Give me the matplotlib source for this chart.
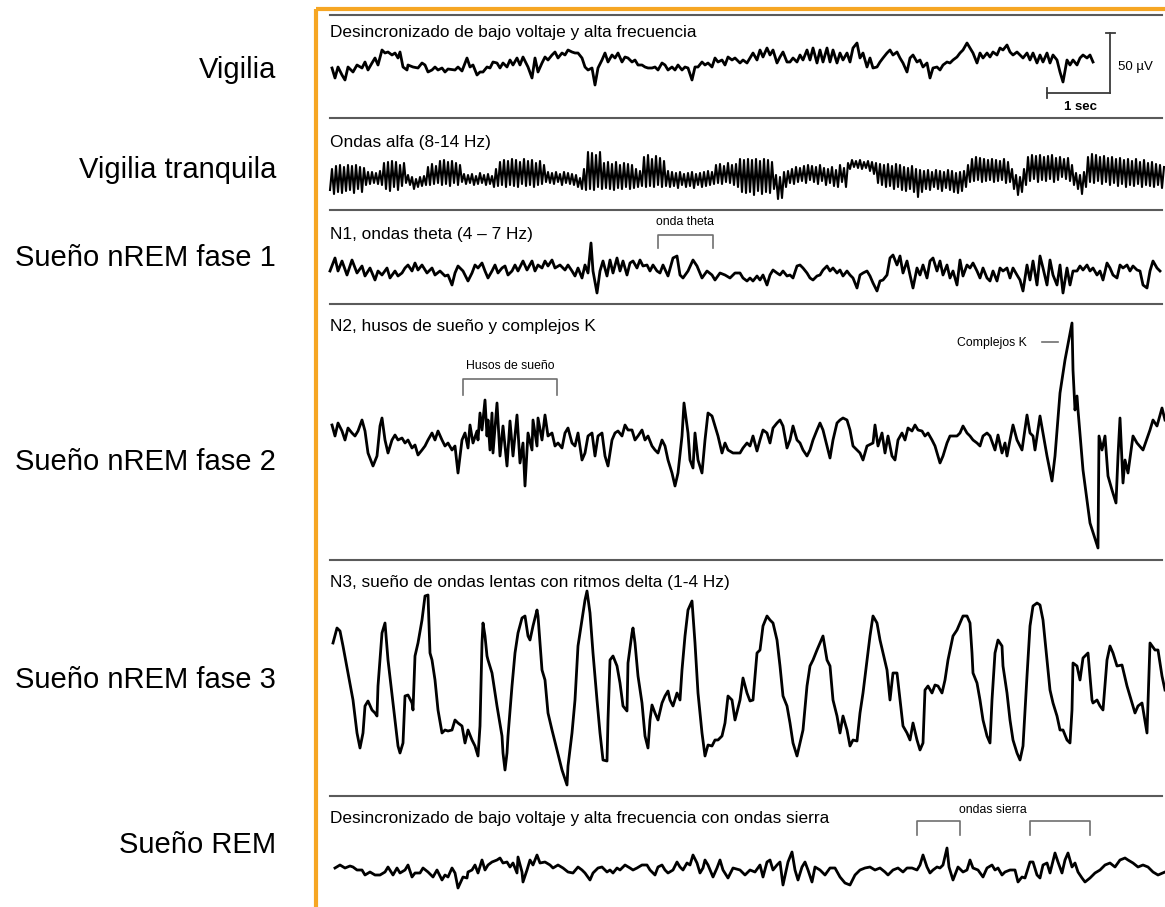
import numpy as np
import matplotlib
matplotlib.use('Agg')
import matplotlib.pyplot as plt

plt.rcParams['font.family'] = ['Liberation Sans', 'DejaVu Sans']

# %%
# Textos
fases = ['Vigilia', 'Vigilia tranquila', 'Sueño nREM fase 1',
         'Sueño nREM fase 2', 'Sueño nREM fase 3', 'Sueño REM']
titulos = ['Desincronizado de bajo voltaje y alta frecuencia',
           'Ondas alfa (8-14 Hz)',
           'N1, ondas theta (4 – 7 Hz)',
           'N2, husos de sueño y complejos K',
           'N3, sueño de ondas lentas con ritmos delta (1-4 Hz)',
           'Desincronizado de bajo voltaje y alta frecuencia con ondas sierra']

# %%
# Trazados EEG leidos del registro: (posicion en el trazado, amplitud)
# unidades del trazado: 63 = 1 s en horizontal, 60 = 50 µV en vertical
vigilia = [(2,-3),(5,-13),(8,-2),(12,-10),(15,-15),(18,-2),(23,-7),(27,0),(32,-3),(35,3),(38,-5),(42,2),(45,7),(48,0),
           (52,15),(55,12),(58,13),(62,10),(65,12),(68,7),(70,13),(73,-2),(77,-5),(78,0),(83,-2),(88,-3),(92,2),(95,0),
           (98,-7),(102,-5),(105,-2),(108,-5),(112,-3),(115,-7),(118,-4),(125,-5),(128,-2),(132,-6),(137,7),(140,-2),
           (143,0),(147,-10),(150,-7),(153,-7),(157,-2),(160,-3),(163,3),(167,2),(170,-3),(173,2),(177,-2),(180,5),
           (183,0),(187,7),(190,0),(193,8),(198,-2),(202,-13),(205,7),(208,-7),(212,2),(215,8),(218,5),(222,10),
           (225,13),(228,7),(232,12),(235,10),(238,15),(242,13),(245,12),(248,12),(252,7),(255,-2),(258,-5),(262,-3),
           (265,-20),(268,-3),(272,5),(275,12),(278,3),(282,10),(285,7),(288,12),(292,3),(295,8),(298,7),(302,3),
           (305,5),(308,0),(312,0),(315,-2),(318,-3),(322,-3),(325,-2),(328,-5),(332,2),(335,0),(338,-5),(342,-2),
           (345,-5),(348,0),(352,-5),(355,-2),(358,-3),(362,-15),(365,-2),(368,-2),(372,3),(375,0),(378,2),(382,-2),
           (385,7),(388,3),(392,5),(395,0),(398,8),(402,5),(405,7),(410,2),(413,5),(417,2),(420,7),(423,12),(427,5),
           (430,15),(433,8),(437,17),(440,10),(443,15),(447,2),(450,8),(453,13),(457,3),(460,3),(463,7),(467,3),
           (470,10),(473,5),(477,15),(480,5),(483,17),(487,2),(490,15),(493,3),(497,17),(500,3),(503,15),(507,2),
           (510,12),(513,5),(517,12),(520,3),(523,17),(527,22),(530,7),(533,12),(537,-2),(540,7),(543,-3),(547,-2),
           (550,3),(553,7),(557,12),(560,15),(563,10),(567,13),(570,7),(573,2),(577,-7),(580,7),(583,10),(587,3),
           (590,5),(593,-2),(597,2),(600,-13),(603,-3),(607,-2),(610,-5),(613,0),(617,3),(620,2),(623,5),(627,8),
           (630,12),(633,15),(637,22),(640,17),(643,12),(647,2),(650,12),(653,7),(657,12),(660,8),(663,13),(667,10),
           (670,17),(673,15),(677,20),(680,13),(683,10),(687,13),(690,10),(693,7),(697,12),(700,5),(703,12),(707,2),
           (710,10),(713,3),(717,12),(720,2),(723,10),(727,5),(730,-7),(733,-17),(737,5),(740,0),(743,5),(747,0),
           (750,7),(753,10),(757,7),(760,10),(763,3)]

# ondas alfa: muestras cada 2 unidades
alfa = [-13, 8, -17, 11, -15, 12, -16, 10, -14, 12,
        -13, 11, -16, 12, -12, 10, -15, 9, -8, 5,
        -7, 5, -6, 4, -7, 6, -8, 14, -12, 15,
        -14, 16, -10, 15, -13, 12, -9, 14, -6, 2,
        -8, 0, -12, -2, -10, 0, -9, 1, -8, 10,
        -8, 13, -7, 11, -6, 16, -8, 17, -7, 15,
        -9, 16, -6, 14, -8, 12, -5, 3, -7, 2,
        -6, 3, -8, 1, -7, 4, -6, 2, -8, 3,
        -7, 1, -10, 8, -9, 15, -8, 17, -10, 16,
        -8, 18, -9, 17, -10, 15, -7, 18, -9, 16,
        -8, 17, -10, 14, -8, 16, -7, 12, -5, 5,
        -6, 4, -7, 5, -5, 3, -8, 5, -6, 4,
        -7, 3, -8, 2, -10, -1, -12, 8, -13, 25,
        -12, 24, -13, 22, -10, 25, -12, 14, -11, 15,
        -12, 13, -13, 15, -11, 12, -12, 14, -10, 13,
        -12, 12, -11, 8, -10, 6, -9, 20, -10, 22,
        -9, 18, -10, 21, -8, 19, -10, 16, -9, 6,
        -10, 5, -9, 4, -11, 5, -8, 3, -10, 4,
        -9, 5, -11, 3, -8, 4, -10, 5, -9, 6,
        -8, 5, -7, 12, -6, 13, -7, 11, -5, 14,
        -6, 12, -8, 13, -10, 18, -15, 17, -16, 18,
        -15, 17, -18, 18, -14, 16, -17, 18, -15, 17,
        -16, 15, -12, 2, -22, 0, -21, 5, -10, 6,
        -6, 8, -7, 10, -5, 9, -4, 11, -6, 12,
        -3, 11, -5, 10, -7, 12, -4, 9, -8, 8,
        -6, 10, -9, 7, -10, 12, -5, 9, -10, 14,
        8, 17, 10, 16, 9, 17, 8, 15, 9, 16,
        6, 15, 3, 14, -6, 13, -8, 12, -10, 13,
        -9, 11, -12, 13, -10, 12, -13, 10, -14, 9,
        -12, 11, -15, 8, -20, 7, -15, 6, -12, 7,
        -13, 5, -10, 7, -12, 6, -14, 5, -11, 7,
        -13, 6, -15, 4, -16, 5, -14, 6, -10, 12,
        -5, 18, -4, 20, -3, 19, -5, 18, -4, 17,
        -3, 18, -5, 17, -4, 16, -3, 18, -6, 15,
        -5, 8, -12, 2, -18, 0, -15, 8, -8, 20,
        -4, 22, -2, 21, -5, 22, -3, 20, -4, 21,
        -2, 22, -5, 19, -3, 20, 0, 18, -2, 19,
        -4, 12, -8, 4, -12, 2, -17, 5, -10, 20,
        -5, 23, -6, 22, -4, 20, -7, 21, -5, 19,
        -8, 20, -6, 18, -9, 19, -7, 17, -10, 18,
        -8, 16, -9, 18, -7, 15, -10, 17, -8, 14,
        -9, 15, -10, 13, -8, 12, -11, 10]
paso_alfa = 2

n1 = [(0,2),(5,15),(8,2),(12,12),(17,-2),(22,13),(27,0),(32,7),(35,-3),(40,5),(45,-7),(48,2),(52,-2),(57,5),(60,-5),
      (65,2),(68,-3),(72,0),(75,5),(78,8),(82,2),(85,10),(88,3),(92,8),(97,0),(102,5),(105,-2),(110,2),(115,-3),
      (118,-2),(122,-12),(125,0),(128,7),(133,2),(138,-8),(142,0),(145,8),(148,5),(152,10),(155,2),(158,-5),(162,2),
      (165,8),(168,0),(172,5),(175,7),(178,-2),(182,2),(185,8),(188,2),(193,12),(197,3),(202,12),(205,2),(208,8),
      (212,5),(215,12),(218,7),(222,13),(225,5),(230,8),(235,3),(238,8),(242,2),(245,-3),(248,5),(252,-5),(255,8),
      (258,0),(261,30),(263,2),(267,-20),(270,2),(273,12),(277,-3),(280,13),(283,0),(287,15),(290,2),(293,12),
      (297,-2),(300,10),(303,12),(307,5),(310,13),(313,7),(317,8),(320,2),(323,8),(327,2),(330,0),(333,8),(338,-3),
      (343,15),(347,17),(350,-2),(353,-5),(358,2),(363,13),(367,7),(372,-5),(377,2),(382,-2),(385,-7),(390,0),
      (395,-2),(400,-5),(405,0),(410,0),(413,-5),(417,-8),(420,-5),(423,-8),(427,-3),(430,-7),(433,-2),(437,-12),
      (440,-2),(443,3),(447,0),(450,-2),(453,2),(457,-3),(460,-2),(463,-5),(467,7),(470,8),(473,5),(477,0),(480,-5),
      (483,-7),(487,-3),(490,-2),(493,3),(497,7),(500,2),(503,5),(507,0),(510,3),(513,-3),(517,2),(520,-2),(523,-5),
      (527,-15),(530,-2),(533,0),(537,2),(540,-3),(543,-10),(547,-18),(550,-8),(553,-7),(557,-2),(560,15),(563,18),
      (567,8),(570,17),(573,0),(577,12),(580,-2),(583,-15),(587,5),(590,-2),(593,8),(597,-5),(600,12),(603,15),
      (607,2),(610,12),(613,-2),(617,8),(620,-5),(623,2),(627,-12),(630,13),(633,-3),(637,8),(640,5),(643,10),
      (647,2),(650,-5),(653,5),(657,-5),(660,-8),(663,2),(667,-8),(670,5),(673,2),(677,5),(680,-5),(683,5),(687,-2),
      (690,-7),(693,-18),(697,8),(700,-7),(703,12),(707,-12),(710,17),(713,5),(717,-12),(720,13),(723,-2),(727,-12),
      (730,8),(733,-20),(737,5),(740,-12),(743,2),(747,2),(750,7),(753,3),(757,8),(760,2),(763,5),(767,-2),(770,2),
      (773,-7),(777,10),(780,5),(783,-2),(787,-5),(790,8),(793,5),(797,8),(800,2),(803,7),(807,3),(810,2),(813,-12),
      (817,-15),(820,2),(823,12),(827,5),(830,2)]

n2 = [(2,18),(5,7),(8,20),(12,12),(15,3),(18,15),(22,10),(25,7),(28,12),(32,23),(35,12),(38,-10),(43,-23),(47,-13),
      (50,17),(52,25),(55,3),(58,-10),(62,3),(65,8),(68,3),(72,5),(75,0),(78,3),(82,-5),(85,-2),(88,-12),(92,-7),
      (95,-3),(98,3),(102,10),(105,3),(108,12),(112,3),(115,-3),(118,0),(122,-7),(125,-3),(128,-30),(132,3),(135,10),
      (138,-5),(140,18),(143,0),(147,12),(148,3),(150,30),(152,13),(153,23),(155,43),(157,7),(158,23),(160,-7),
      (162,30),(163,-10),(167,40),(170,-13),(173,17),(177,-23),(180,22),(183,-13),(187,28),(190,-20),(193,0),
      (195,-43),(198,10),(202,-7),(203,23),(207,-3),(208,25),(212,3),(215,28),(218,7),(222,10),(225,-3),(228,0),
      (232,-5),(235,10),(238,15),(242,0),(245,-3),(248,10),(252,-17),(255,-10),(258,7),(262,10),(265,-13),(268,7),
      (272,10),(275,-13),(278,-23),(282,3),(285,10),(288,12),(292,7),(295,18),(298,13),(302,13),(305,3),(308,7),
      (312,13),(315,3),(318,7),(322,-3),(325,-7),(328,-10),(332,3),(335,-3),(338,-17),(342,-30),(345,-43),(348,-30),
      (352,7),(354,40),(358,10),(360,-17),(363,-25),(365,10),(368,-17),(372,-30),(375,3),(378,30),(382,27),(385,17),
      (388,7),(392,-10),(395,0),(398,-7),(403,-10),(410,-10),(413,-5),(417,0),(420,-3),(423,7),(427,-8),(430,3),
      (433,13),(437,10),(440,0),(443,15),(447,20),(450,23),(453,17),(457,-5),(460,3),(463,17),(467,3),(470,0),
      (473,-7),(477,-13),(480,-7),(483,3),(487,13),(490,20),(493,13),(497,-3),(500,-15),(503,3),(507,20),(510,23),
      (513,25),(517,23),(520,13),(523,-3),(527,-7),(530,-10),(533,-17),(537,-3),(543,0),(545,18),(548,-3),(552,10),
      (555,-10),(558,7),(562,-13),(565,-17),(568,3),(572,10),(575,3),(578,15),(582,12),(585,18),(588,13),(592,12),
      (595,7),(598,10),(602,3),(605,-3),(608,-13),(610,-20),(613,-13),(617,0),(620,7),(623,7),(627,7),(630,10),
      (633,17),(637,10),(640,7),(643,3),(647,0),(650,-3),(653,7),(657,10),(660,7),(665,-7),(668,8),(672,-10),
      (675,0),(677,-13),(680,3),(683,18),(687,3),(692,-7),(697,28),(700,10),(703,7),(705,-7),(710,27),(713,10),
      (717,-13),(722,-38),(725,-13),(730,50),(735,83),(742,120),(743,73),(745,33),(747,47),(748,33),(753,-27),
      (760,-80),(768,-105),(769,7),(772,-7),(775,7),(778,-33),(782,-47),(786,-60),(788,-13),(790,25),(793,-40),
      (795,-17),(798,-30),(803,7),(807,0),(813,-7),(820,13),(823,23),(827,17),(832,35),(835,23)]

n3 = [(3,50),(7,65),(10,62),(13,47),(18,20),(23,-7),(27,-40),(30,-55),(33,-40),(35,-13),(38,-8),(42,-17),(45,-20),
      (47,-23),(48,7),(52,60),(55,70),(58,33),(63,-10),(68,-53),(70,-60),(73,-50),(75,-3),(78,-2),(82,-10),(83,-17),
      (85,37),(88,50),(92,73),(95,97),(98,98),(100,40),(102,33),(105,13),(108,-17),(112,-40),(115,-37),(118,-38),
      (122,-37),(125,-27),(128,-30),(132,-33),(135,-50),(138,-37),(142,-47),(145,-53),(148,-63),(150,-33),(152,50),
      (153,70),(155,57),(157,37),(158,33),(162,20),(167,-13),(172,-43),(173,-60),(175,-77),(177,-60),(178,-43),
      (182,7),(185,40),(188,60),(192,75),(195,77),(198,57),(200,53),(203,67),(207,83),(208,77),(212,23),(215,13),
      (218,-20),(222,-37),(227,-57),(232,-77),(237,-92),(238,-73),(242,-40),(245,-7),(248,47),(252,73),(255,93),
      (257,102),(260,80),(263,40),(267,-7),(270,-40),(273,-67),(277,-68),(278,-27),(280,33),(283,37),(287,27),
      (290,10),(293,-13),(297,-18),(298,30),(302,60),(303,65),(305,50),(308,17),(312,-10),(315,-43),(318,-55),
      (320,-27),(322,-12),(325,-20),(328,-27),(332,-10),(335,-3),(338,2),(340,-7),(343,-13),(347,0),(350,-7),
      (352,23),(355,57),(358,83),(362,92),(365,50),(368,0),(372,-40),(375,-63),(378,-52),(382,-53),(385,-47),
      (388,-47),(392,-43),(395,-30),(398,-3),(402,-7),(405,-27),(410,-7),(413,15),(417,0),(420,-8),(423,-7),
      (427,40),(430,43),(433,67),(437,77),(440,73),(443,70),(447,53),(450,27),(453,-3),(457,-13),(460,-30),
      (463,-50),(467,-63),(470,-50),(473,-37),(477,7),(480,27),(483,33),(487,43),(490,50),(493,57),(497,33),
      (500,27),(503,-7),(507,-23),(510,-40),(513,-23),(517,-37),(520,-53),(523,-47),(527,-48),(530,-20),(533,0),
      (537,33),(540,57),(543,77),(547,70),(550,53),(553,40),(557,23),(560,-7),(563,20),(567,20),(570,-7),(573,-33),
      (577,-40),(580,-47),(583,-30),(587,-47),(590,-57),(593,-50),(595,3),(598,7),(602,0),(605,8),(608,7),(612,0),
      (615,13),(618,33),(623,57),(627,63),(630,70),(633,77),(637,77),(640,70),(642,40),(643,20),(647,10),(650,-7),
      (653,-27),(657,-43),(660,-50),(662,-7),(665,40),(668,53),(672,47),(673,27),(677,0),(680,-27),(683,-47),
      (687,-60),(690,-67),(693,-53),(695,-17),(697,17),(700,67),(703,87),(707,90),(710,88),(713,73),(717,33),
      (720,3),(723,-10),(727,-23),(730,-37),(733,-37),(737,-47),(740,-50),(742,-17),(743,30),(747,27),(750,13),
      (753,35),(758,40),(762,-7),(763,-10),(767,-7),(770,-13),(773,-17),(777,33),(780,47),(783,40),(787,27),
      (792,28),(797,7),(800,-3),(805,-20),(808,-13),(812,-10),(817,-40),(820,50),(825,43),(828,43),(832,17),(835,3)]

rem = [(5,2),(10,5),(15,2),(20,4),(23,3),(27,0),(32,0),(35,-5),(40,-2),(45,-5),(50,-5),(55,-2),(58,3),(63,-5),(67,2),
       (70,-3),(75,0),(78,5),(82,-7),(85,-3),(90,-3),(93,2),(98,-2),(103,-7),(107,0),(112,-10),(115,-5),(118,-7),
       (122,2),(125,-3),(128,-18),(133,-7),(137,-8),(138,-2),(142,0),(145,5),(148,-3),(152,10),(155,0),(158,5),
       (162,8),(167,10),(170,12),(173,7),(177,8),(180,3),(183,7),(187,-3),(188,13),(192,-2),(193,-12),(197,0),
       (200,10),(203,5),(207,15),(210,7),(215,8),(220,5),(223,2),(228,5),(233,2),(238,-2),(243,-3),(248,3),(252,0),
       (255,-3),(260,-10),(263,-3),(268,2),(272,3),(277,-2),(280,0),(283,-3),(287,2),(290,0),(295,5),(300,2),
       (303,0),(307,2),(312,5),(317,5),(320,0),(325,-5),(328,3),(332,5),(335,0),(338,-3),(343,0),(347,8),(350,3),
       (353,0),(357,7),(360,5),(363,15),(367,7),(370,-3),(373,2),(375,10),(378,5),(383,-7),(387,2),(390,10),(393,0),
       (398,-8),(403,2),(410,0),(415,-5),(420,0),(425,-2),(430,5),(433,-7),(437,8),(440,10),(443,0),(447,5),(450,8),
       (453,-15),(458,8),(462,18),(465,0),(468,-10),(472,3),(475,8),(478,0),(482,-12),(485,3),(490,0),(495,-5),
       (500,2),(505,2),(510,-7),(515,-13),(520,-15),(525,-5),(530,0),(535,2),(540,3),(545,0),(550,2),(555,-2),
       (558,-5),(563,0),(568,2),(573,-2),(577,2),(582,2),(587,0),(590,5),(593,15),(597,3),(600,-3),(603,0),(607,3),
       (610,2),(613,5),(617,22),(619,3),(623,-10),(628,3),(633,-2),(637,0),(640,10),(643,2),(648,0),(653,-7),(657,2),
       (662,5),(665,0),(668,2),(672,-5),(675,-2),(680,0),(685,0),(688,-12),(692,-7),(695,-8),(700,8),(703,8),
       (707,-5),(710,-8),(713,5),(717,7),(720,-3),(725,17),(728,8),(732,-3),(735,10),(738,17),(742,3),(745,7),
       (748,-2),(752,-8),(755,-12),(760,-8),(765,-3),(770,0),(775,5),(780,7),(785,3),(790,10),(795,12),(798,10),
       (803,7),(808,3),(813,5),(818,3),(823,-2),(828,-5),(835,-2)]

# %%
x0 = 330                                   # inicio de los trazados
bases = [65, 177, 273, 443, 693, 870]      # linea base de cada trazado
y_titulos = [32, 142, 235, 327, 583, 818]
y_fases = [70, 170, 258, 462, 680, 845]
separadores = [15, 118, 210, 304, 560, 796]
naranja = '#F6A623'

fig = plt.figure(figsize=(11.65, 9.07), dpi=100)
ax = fig.add_axes([0, 0, 1, 1])
ax.set_xlim(0, 1165)
ax.set_ylim(907, 0)
ax.axis('off')

# marco naranja
ax.plot([316, 316], [9, 907], color=naranja, lw=3, solid_capstyle='butt')
ax.plot([316, 1165], [9, 9], color=naranja, lw=3, solid_capstyle='butt')

for y in separadores:
    ax.plot([330, 1162], [y, y], color='#5a5a5a', lw=1.5)

for nombre, y in zip(fases, y_fases):
    ax.text(276, y, nombre, ha='right', va='center', fontsize=21)

for titulo, y in zip(titulos, y_titulos):
    ax.text(330, y, titulo, ha='left', va='center', fontsize=12.4)

# trazados
trazos = [vigilia, None, n1, n2, n3, rem]
for trazo, base in zip(trazos, bases):
    if trazo is None:
        continue
    d = np.array(trazo, dtype=float)
    ax.plot(x0 + d[:, 0], base - d[:, 1], color='black', lw=2.0,
            solid_joinstyle='round')

t_alfa = np.arange(len(alfa)) * paso_alfa
ax.plot(x0 + t_alfa, bases[1] - np.array(alfa), color='black', lw=1.5,
        solid_joinstyle='round')

# barra de escala
gris = '#3c3c3c'
ax.plot([1110, 1110], [33, 93], color=gris, lw=1.3)
ax.plot([1106, 1115], [33, 33], color=gris, lw=1.3)
ax.plot([1047, 1110], [93, 93], color=gris, lw=1.3)
ax.plot([1047, 1047], [88, 98], color=gris, lw=1.3)
ax.text(1118, 67, '50 µV', ha='left', va='center', fontsize=9.5)
ax.text(1080, 107, '1 sec', ha='center', va='center', fontsize=9.5, fontweight='bold')

# anotaciones con corchetes
def corchete(x1, x2, arriba, abajo):
    ax.plot([x1, x1, x2, x2], [abajo, arriba, arriba, abajo], color='#707070', lw=1.2)

corchete(658, 713, 235, 248)
ax.text(685, 222, 'onda theta', ha='center', va='center', fontsize=8.8)
corchete(463, 557, 379, 395)
ax.text(510, 366, 'Husos de sueño', ha='center', va='center', fontsize=8.8)
ax.text(1027, 343, 'Complejos K', ha='right', va='center', fontsize=8.8)
ax.plot([1042, 1058], [342, 342], color='#707070', lw=1.2)
corchete(917, 960, 821, 835)
corchete(1030, 1090, 821, 835)
ax.text(993, 810, 'ondas sierra', ha='center', va='center', fontsize=8.8)

fig.savefig('out.png', dpi=100, facecolor='white')
